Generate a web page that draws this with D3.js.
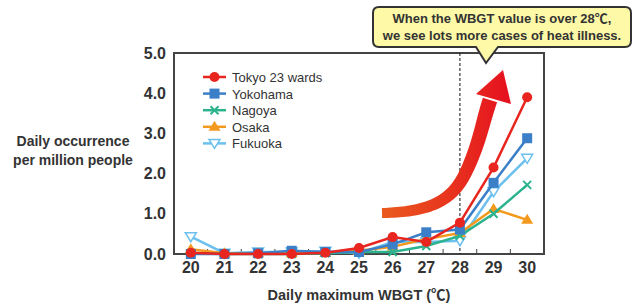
<!DOCTYPE html>
<html>

<head>
    <meta charset='utf-8'>
    <title>WBGT chart</title>
    <script type='text/javascript' src='https://cdn.jsdelivr.net/npm/d3@7'></script>
    <style>
        body { margin: 0; background: #fff; }
        text { font-family: 'Liberation Sans', Arial, 'Noto Sans CJK JP', sans-serif; fill: #333; }
    </style>
</head>

<body>
    <svg width='639' height='306'></svg>
    <script type='text/javascript'>
        // data
        const wbgt = [20, 21, 22, 23, 24, 25, 26, 27, 28, 29, 30]
        const yTicks = [0, 1, 2, 3, 4, 5]
        const cities = ['Tokyo 23 wards', 'Yokohama', 'Nagoya', 'Osaka', 'Fukuoka']
        const tokyo = [0.03, 0.0, 0.0, 0.0, 0.03, 0.15, 0.42, 0.3, 0.78, 2.15, 3.9]
        const yokohama = [0.0, 0.0, 0.02, 0.08, 0.05, 0.05, 0.24, 0.54, 0.61, 1.77, 2.88]
        const nagoya = [0.02, 0.0, 0.0, 0.0, 0.02, 0.05, 0.05, 0.2, 0.45, 1.0, 1.72]
        const osaka = [0.12, 0.02, 0.02, 0.02, 0.03, 0.08, 0.18, 0.37, 0.52, 1.12, 0.85]
        const fukuoka = [0.43, 0.02, 0.05, 0.05, 0.07, 0.02, 0.3, 0.3, 0.33, 1.55, 2.38]
        const seriesValues = [tokyo, yokohama, nagoya, osaka, fukuoka]
        const colors = ['#e8251f', '#3a7fc8', '#2cb38e', '#f39a1e', '#6cc0ee']
        const symbols = ['circle', 'square', 'cross', 'triangle', 'tridown']

        const svg = d3.select('svg')
        const plotL = 174, plotR = 544, plotT = 53, plotB = 254

        const x = d3.scaleBand().domain(wbgt).range([plotL, plotR])
        const y = d3.scaleLinear().domain([0, 5]).range([plotB, plotT])
        const cx = d => x(d) + x.bandwidth() / 2

        // gradient for the big arrow
        const defs = svg.append('defs')
        const grad = defs.append('linearGradient').attr('id', 'arrowGrad')
            .attr('gradientUnits', 'userSpaceOnUse')
            .attr('x1', 382).attr('y1', 0).attr('x2', 510).attr('y2', 0)
        grad.append('stop').attr('offset', 0).attr('stop-color', '#ea5a1e')
        grad.append('stop').attr('offset', 0.5).attr('stop-color', '#e8361e')
        grad.append('stop').attr('offset', 1).attr('stop-color', '#e5101f')

        // frame
        svg.append('rect')
            .attr('x', plotL).attr('y', plotT)
            .attr('width', plotR - plotL).attr('height', plotB - plotT)
            .attr('fill', 'none').attr('stroke', '#444').attr('stroke-width', 2)

        // inward ticks between categories
        const xAxis = d3.axisBottom(x).tickSize(0).tickPadding(8)
        const gx = svg.append('g').attr('transform', `translate(0,${plotB})`).call(xAxis)
        gx.select('.domain').remove()
        gx.selectAll('text').attr('font-size', 16).attr('font-weight', 'bold').attr('fill', '#333')
            .style('font-family', "'Liberation Sans', Arial, sans-serif")
        svg.append('g').selectAll('line').data(wbgt.slice(1))
            .enter().append('line')
            .attr('x1', d => x(d)).attr('x2', d => x(d))
            .attr('y1', plotB).attr('y2', plotB - 5)
            .attr('stroke', '#444').attr('stroke-width', 1)

        const yAxis = d3.axisLeft(y).tickValues(yTicks).tickFormat(d3.format('.1f')).tickSize(0).tickPadding(8)
        const gy = svg.append('g').attr('transform', `translate(${plotL},0)`).call(yAxis)
        gy.select('.domain').remove()
        gy.selectAll('text').attr('font-size', 16).attr('font-weight', 'bold').attr('fill', '#333')
            .style('font-family', "'Liberation Sans', Arial, sans-serif")

        // axis titles
        svg.append('text').attr('x', 359).attr('y', 300).attr('text-anchor', 'middle')
            .attr('font-size', 14.5).attr('font-weight', 'bold').text('Daily maximum WBGT (℃)')
        svg.append('text').attr('x', 73).attr('y', 146).attr('text-anchor', 'middle')
            .attr('font-size', 14).attr('font-weight', 'bold').text('Daily occurrence')
        svg.append('text').attr('x', 73).attr('y', 165).attr('text-anchor', 'middle')
            .attr('font-size', 14).attr('font-weight', 'bold').text('per million people')

        // dashed 28 line
        svg.append('line')
            .attr('x1', cx(28)).attr('x2', cx(28))
            .attr('y1', plotT).attr('y2', plotB)
            .attr('stroke', '#111').attr('stroke-width', 1).attr('stroke-dasharray', '3,2')

        // big arrow: shaft widens from tail to head
        const guide = svg.append('path')
            .attr('d', 'M382,213 C428,212 452,202 466,172 S482,124 490,100')
            .attr('fill', 'none')
        const node = guide.node()
        const total = node.getTotalLength()
        const sideA = [], sideB = []
        for (let i = 0; i <= 60; i++) {
            const t = i / 60
            const p = node.getPointAtLength(total * t)
            const q = node.getPointAtLength(Math.min(total, total * t + 0.5))
            const p0 = node.getPointAtLength(Math.max(0, total * t - 0.5))
            let dx = q.x - p0.x, dy = q.y - p0.y
            const len = Math.hypot(dx, dy) || 1
            dx /= len; dy /= len
            const w = (10 + 5 * t) / 2
            sideA.push([p.x - dy * w, p.y + dx * w])
            sideB.push([p.x + dy * w, p.y - dx * w])
        }
        guide.remove()
        svg.append('path')
            .attr('d', d3.line()(sideA.concat(sideB.reverse())) + 'Z')
            .attr('fill', 'url(#arrowGrad)')
        svg.append('path')
            .attr('d', 'M476,94 L503,70 L511,104 Z')
            .attr('fill', 'url(#arrowGrad)')

        // marker drawing
        function drawMarker(g, type, color, px, py) {
            if (type === 'circle') {
                g.append('circle').attr('cx', px).attr('cy', py).attr('r', 5).attr('fill', color)
            } else if (type === 'square') {
                g.append('rect').attr('x', px - 5).attr('y', py - 5).attr('width', 10).attr('height', 10).attr('fill', color)
            } else if (type === 'cross') {
                g.append('path').attr('d', `M${px - 4},${py - 4}L${px + 4},${py + 4}M${px - 4},${py + 4}L${px + 4},${py - 4}`)
                    .attr('stroke', color).attr('stroke-width', 2)
            } else if (type === 'triangle') {
                g.append('path').attr('d', `M${px},${py - 6}L${px + 6},${py + 4}L${px - 6},${py + 4}Z`).attr('fill', color)
            } else {
                g.append('path').attr('d', `M${px - 5.5},${py - 4}L${px + 5.5},${py - 4}L${px},${py + 5}Z`)
                    .attr('fill', '#fff').attr('stroke', color).attr('stroke-width', 1.5)
            }
        }

        const line = d3.line().x((d, i) => cx(wbgt[i])).y(d => y(d))
        // draw last series first so Tokyo sits on top
        for (let s = cities.length - 1; s >= 0; s--) {
            const g = svg.append('g')
            g.append('path').attr('d', line(seriesValues[s]))
                .attr('fill', 'none').attr('stroke', colors[s]).attr('stroke-width', 2.5)
            seriesValues[s].forEach((v, i) => drawMarker(g, symbols[s], colors[s], cx(wbgt[i]), y(v)))
        }

        // legend
        const legend = svg.append('g')
        cities.forEach((c, i) => {
            const ly = 77 + i * 16.6
            legend.append('line').attr('x1', 203).attr('x2', 226).attr('y1', ly).attr('y2', ly)
                .attr('stroke', colors[i]).attr('stroke-width', 2.5)
            drawMarker(legend, symbols[i], colors[i], 214.5, ly)
            legend.append('text').attr('x', 232).attr('y', ly + 5).attr('font-size', 13).text(c)
        })

        // callout
        svg.append('path')
            .attr('d', 'M379,7 H625 Q631,7 631,13 V41 Q631,47 625,47 H498 L486,63 L476,47 H379 Q373,47 373,41 V13 Q373,7 379,7 Z')
            .attr('fill', '#fdf9a6').attr('stroke', '#333').attr('stroke-width', 2)
        svg.append('text').attr('x', 502).attr('y', 23).attr('text-anchor', 'middle')
            .attr('font-size', 13).attr('font-weight', 'bold').text('When the WBGT value is over 28℃,')
        svg.append('text').attr('x', 502).attr('y', 40).attr('text-anchor', 'middle')
            .attr('font-size', 13).attr('font-weight', 'bold').text('we see lots more cases of heat illness.')
    </script>
</body>

</html>
